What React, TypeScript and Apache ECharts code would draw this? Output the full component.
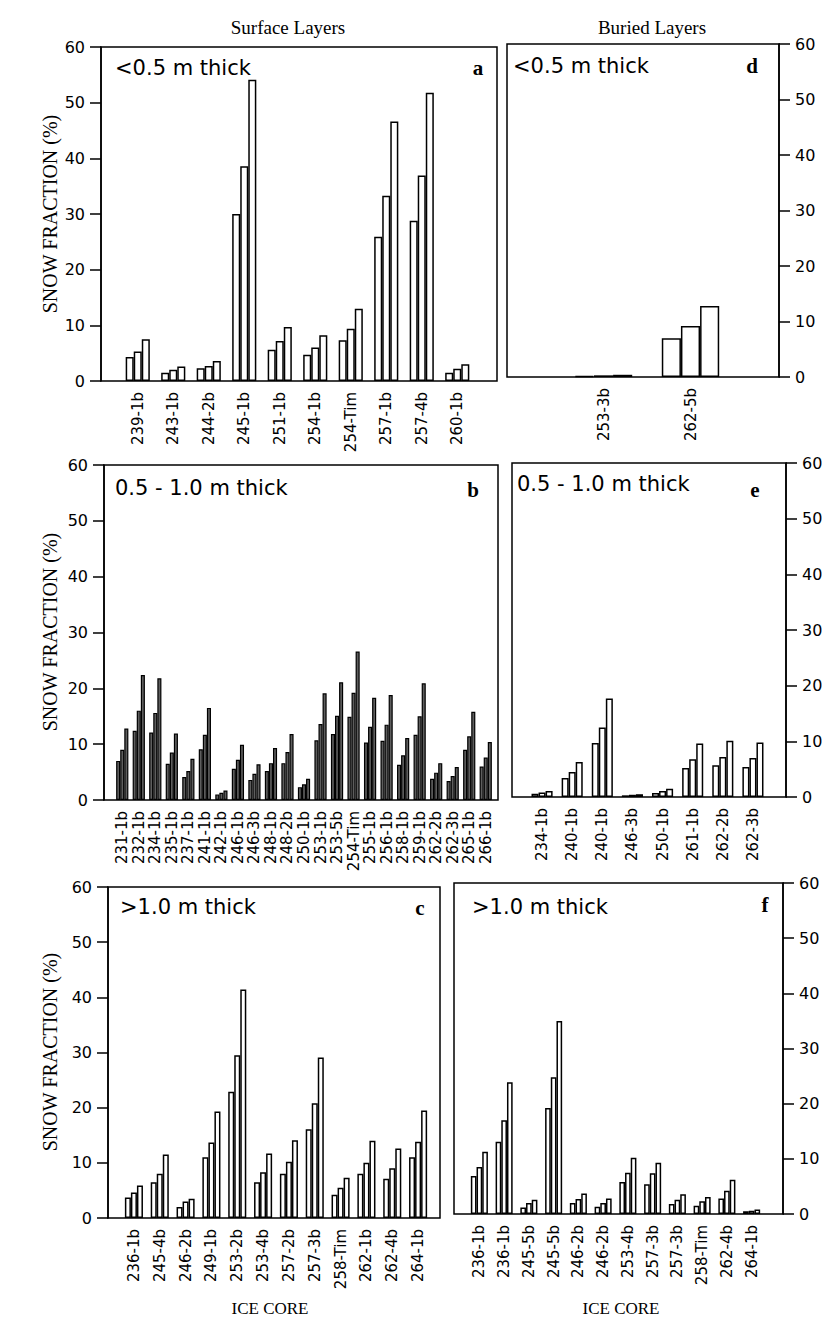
import React, { useEffect, useRef } from "react";
import * as echarts from "echarts";

// ---------- data (snow fraction, %) ----------
const yMin = 0;
const yMax = 60;
const yStep = 10;

// a: surface layers <0.5 m
const coresA = ["239-1b", "243-1b", "244-2b", "245-1b", "251-1b", "254-1b", "254-Tim", "257-1b", "257-4b", "260-1b"];
const a1 = [4.3, 1.5, 2.3, 30.0, 5.6, 4.7, 7.3, 25.9, 28.8, 1.5];
const a2 = [5.3, 2.0, 2.7, 38.6, 7.2, 6.0, 9.4, 33.3, 36.9, 2.2];
const a3 = [7.5, 2.6, 3.6, 54.1, 9.7, 8.2, 13.0, 46.6, 51.8, 3.0];

// d: buried layers <0.5 m
const coresD = ["253-3b", "262-5b"];
const d1 = [0.2, 7.0];
const d2 = [0.3, 9.2];
const d3 = [0.4, 12.8];

// b: surface layers 0.5 - 1.0 m
const coresB = ["231-1b", "232-1b", "234-1b", "235-1b", "237-1b", "241-1b", "242-1b", "246-1b", "246-3b", "248-1b", "248-2b", "250-1b", "253-1b", "253-5b", "254-Tim", "255-1b", "256-1b", "258-1b", "259-1b", "262-2b", "262-3b", "265-1b", "266-1b"];
const b1 = [7.0, 12.4, 12.1, 6.5, 4.1, 9.1, 1.0, 5.6, 3.6, 5.2, 6.6, 2.3, 10.7, 11.8, 14.9, 10.3, 10.6, 6.3, 11.7, 3.8, 3.4, 9.0, 6.0];
const b2 = [9.0, 16.0, 15.6, 8.5, 5.2, 11.7, 1.3, 7.2, 4.7, 6.6, 8.6, 2.8, 13.6, 15.1, 19.2, 13.1, 13.5, 8.0, 15.0, 4.9, 4.3, 11.4, 7.6];
const b3 = [12.8, 22.4, 21.8, 11.9, 7.4, 16.5, 1.7, 9.9, 6.4, 9.3, 11.8, 3.8, 19.1, 21.1, 26.6, 18.3, 18.8, 11.1, 20.9, 6.6, 5.9, 15.8, 10.4];

// e: buried layers 0.5 - 1.0 m
const coresE = ["234-1b", "240-1b", "240-1b", "246-3b", "250-1b", "261-1b", "262-2b", "262-3b"];
const e1 = [0.6, 3.4, 9.7, 0.3, 0.7, 5.2, 5.7, 5.4];
const e2 = [0.8, 4.5, 12.5, 0.4, 1.1, 6.8, 7.2, 7.0];
const e3 = [1.1, 6.3, 17.7, 0.5, 1.5, 9.6, 10.1, 9.8];

// c: surface layers >1.0 m
const coresC = ["236-1b", "245-4b", "246-2b", "249-1b", "253-2b", "253-4b", "257-2b", "257-3b", "258-Tim", "262-1b", "262-4b", "264-1b"];
const c1 = [3.7, 6.5, 2.0, 11.0, 22.9, 6.5, 8.0, 16.1, 4.2, 8.0, 7.1, 11.0];
const c2 = [4.6, 8.0, 3.0, 13.7, 29.5, 8.3, 10.2, 20.8, 5.5, 10.0, 9.0, 13.8];
const c3 = [5.9, 11.5, 3.5, 19.3, 41.4, 11.7, 14.1, 29.1, 7.3, 14.0, 12.6, 19.5];

// f: buried layers >1.0 m
const coresF = ["236-1b", "236-1b", "245-5b", "245-5b", "246-2b", "246-2b", "253-4b", "257-3b", "257-3b", "258-Tim", "262-4b", "264-1b"];
const f1 = [6.9, 13.1, 1.2, 19.2, 2.0, 1.3, 5.8, 5.4, 1.8, 1.5, 2.8, 0.5];
const f2 = [8.5, 17.0, 2.0, 24.8, 2.7, 2.0, 7.5, 7.4, 2.6, 2.3, 4.2, 0.6];
const f3 = [11.3, 23.9, 2.6, 35.0, 3.7, 2.8, 10.2, 9.3, 3.6, 3.1, 6.2, 0.8];

// ---------- layout ----------
type Panel = {
  cats: string[];
  s: number[][];
  frame: [number, number, number, number];
  inner: [number, number];
  side: "left" | "right";
  gap: string;
  fill: string;
  bw: number;
  title: string;
  tx: number;
  ty: number;
  letter: string;
  lx: number;
  ly: number;
};

const panels: Panel[] = [
  { cats: coresA, s: [a1, a2, a3], frame: [101, 47, 396, 334], inner: [120, 355], side: "left", gap: "32%", fill: "#ffffff", bw: 1.5, title: "<0.5 m thick", tx: 115, ty: 68, letter: "a", lx: 478, ly: 68 },
  { cats: coresD, s: [d1, d2, d3], frame: [507, 44, 272, 333], inner: [560, 174], side: "right", gap: "34%", fill: "#ffffff", bw: 1.5, title: "<0.5 m thick", tx: 513, ty: 66, letter: "d", lx: 752, ly: 66 },
  { cats: coresB, s: [b1, b2, b3], frame: [104, 465, 394, 335], inner: [114, 380], side: "left", gap: "26%", fill: "#5e5e5e", bw: 1.2, title: "0.5 - 1.0 m thick", tx: 115, ty: 488, letter: "b", lx: 473, ly: 490 },
  { cats: coresE, s: [e1, e2, e3], frame: [512, 463, 274, 334], inner: [527, 241], side: "right", gap: "30%", fill: "#ffffff", bw: 1.5, title: "0.5 - 1.0 m thick", tx: 517, ty: 484, letter: "e", lx: 755, ly: 490 },
  { cats: coresC, s: [c1, c2, c3], frame: [108, 887, 332, 331], inner: [121, 310], side: "left", gap: "30%", fill: "#ffffff", bw: 1.5, title: ">1.0 m thick", tx: 120, ty: 907, letter: "c", lx: 420, ly: 908 },
  { cats: coresF, s: [f1, f2, f3], frame: [454, 883, 329, 331], inner: [467, 297], side: "right", gap: "31%", fill: "#ffffff", bw: 1.5, title: ">1.0 m thick", tx: 472, ty: 907, letter: "f", lx: 765, ly: 905 },
];

const SANS = "DejaVu Sans";
const SERIF = "Liberation Serif";

function buildOption() {
  const grid: any[] = [];
  const xAxis: any[] = [];
  const yAxis: any[] = [];
  const series: any[] = [];
  const graphic: any[] = [];

  panels.forEach((p, i) => {
    const [fl, ft, fw, fh] = p.frame;
    const fi = 2 * i;
    const di = 2 * i + 1;
    grid.push({
      left: fl, top: ft, width: fw, height: fh,
      show: true, borderColor: "#000", borderWidth: 1.5, backgroundColor: "transparent",
      outerBoundsMode: "none",
    });
    grid.push({
      left: p.inner[0], top: ft, width: p.inner[1], height: fh,
      show: false, outerBoundsMode: "none",
    });
    xAxis.push({ gridIndex: fi, type: "value", min: 0, max: 1, show: false });
    yAxis.push({
      gridIndex: fi, type: "value", min: yMin, max: yMax, interval: yStep, position: p.side,
      axisLine: { show: true, onZero: false, lineStyle: { color: "#000", width: 1.5 } },
      axisTick: { show: true, inside: false, length: 11, lineStyle: { color: "#000", width: 1.5 } },
      axisLabel: { color: "#000", fontSize: 16, fontFamily: SANS, margin: 16 },
      splitLine: { show: false },
    });
    xAxis.push({
      gridIndex: di, type: "category", data: p.cats,
      axisLine: { show: false, onZero: false }, axisTick: { show: false },
      axisLabel: { rotate: 90, interval: 0, fontSize: 15, fontFamily: SANS, color: "#000", margin: 11 },
    });
    yAxis.push({ gridIndex: di, type: "value", min: yMin, max: yMax, show: false });
    p.s.forEach((vals) => {
      series.push({
        type: "bar", xAxisIndex: di, yAxisIndex: di, data: vals,
        barGap: "0%", barCategoryGap: p.gap,
        itemStyle: { color: p.fill, borderColor: "#000", borderWidth: p.bw },
        silent: true,
      });
    });
    graphic.push({
      type: "text", x: p.tx, y: p.ty,
      style: { text: p.title, fontSize: 21, fontFamily: SANS, fill: "#000", textAlign: "left", textVerticalAlign: "middle" },
    });
    graphic.push({
      type: "text", x: p.lx, y: p.ly,
      style: { text: p.letter, fontSize: 21, fontFamily: SERIF, fontWeight: "bold", fill: "#000", textAlign: "center", textVerticalAlign: "middle" },
    });
  });

  // headers and axis titles
  graphic.push({ type: "text", x: 288, y: 27, style: { text: "Surface Layers", fontSize: 19, fontFamily: SERIF, fill: "#000", textAlign: "center", textVerticalAlign: "middle" } });
  graphic.push({ type: "text", x: 652, y: 27, style: { text: "Buried Layers", fontSize: 19, fontFamily: SERIF, fill: "#000", textAlign: "center", textVerticalAlign: "middle" } });
  [214, 632, 1052].forEach((cy) => {
    graphic.push({
      type: "text", x: 50, y: cy, rotation: Math.PI / 2,
      style: { text: "SNOW FRACTION (%)", fontSize: 20, fontFamily: SERIF, fill: "#000", textAlign: "center", textVerticalAlign: "middle" },
    });
  });
  graphic.push({ type: "text", x: 270, y: 1308, style: { text: "ICE CORE", fontSize: 17, fontFamily: SERIF, fill: "#000", textAlign: "center", textVerticalAlign: "middle" } });
  graphic.push({ type: "text", x: 621, y: 1308, style: { text: "ICE CORE", fontSize: 17, fontFamily: SERIF, fill: "#000", textAlign: "center", textVerticalAlign: "middle" } });

  return {
    animation: false,
    backgroundColor: "#ffffff",
    grid, xAxis, yAxis, series, graphic,
  };
}

export default function App() {
  const ref = useRef<HTMLDivElement>(null);
  useEffect(() => {
    if (!ref.current) return;
    const chart = echarts.init(ref.current, undefined, { renderer: "svg" });
    chart.setOption(buildOption() as any);
    return () => chart.dispose();
  }, []);
  return <div ref={ref} style={{ position: "absolute", left: 0, top: 0, width: 832, height: 1324 }} />;
}
